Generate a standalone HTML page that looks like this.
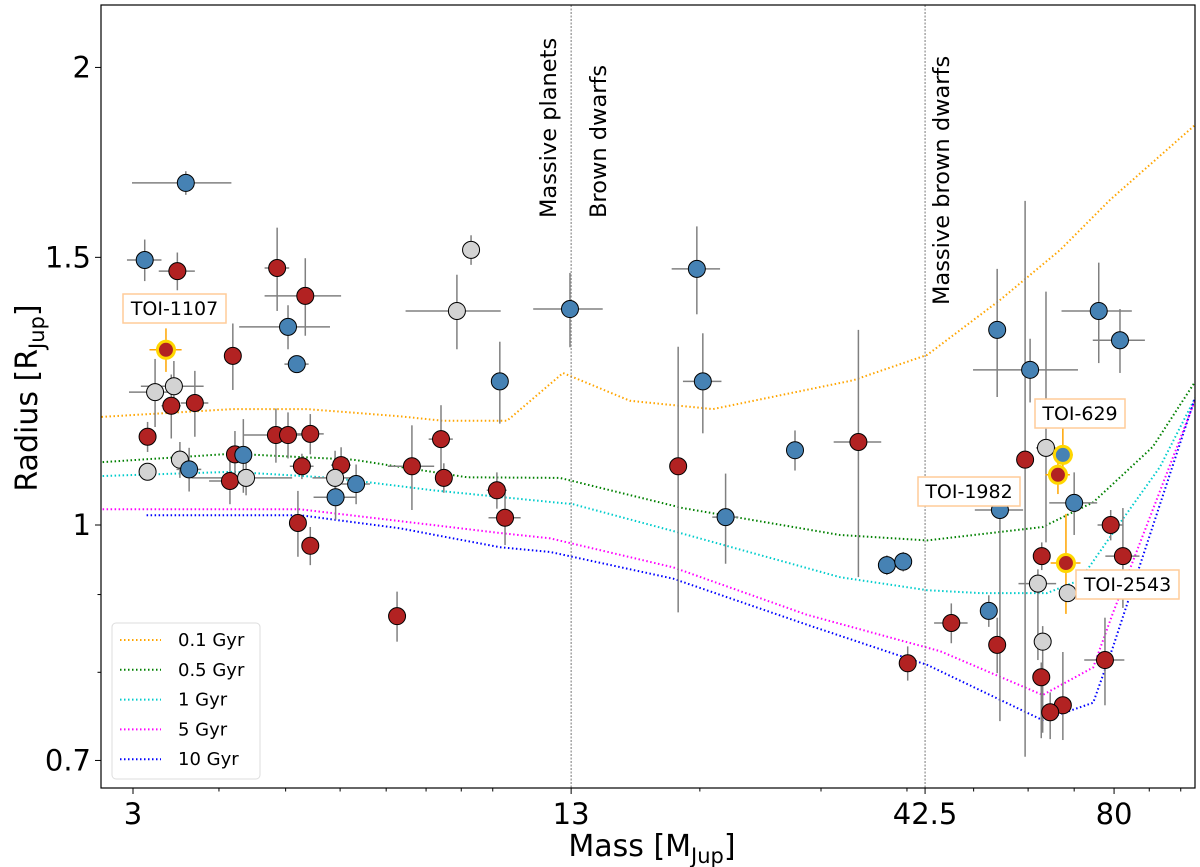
<!DOCTYPE html>
<html><head><meta charset="utf-8">
<style>
html,body{margin:0;padding:0;background:#fff;}
svg{display:block;font-family:"DejaVu Sans","Liberation Sans",sans-serif;}
</style></head>
<body>
<svg id="chart" width="1200" height="867" viewBox="0 0 1200 867" xmlns="http://www.w3.org/2000/svg">
<defs><clipPath id="plotclip"><rect x="101" y="5" width="1094" height="783"/></clipPath></defs>
<rect x="0" y="0" width="1200" height="867" fill="#fff"/>
<g id="iso" clip-path="url(#plotclip)"></g>
<g id="vlines"></g>
<g id="errs" clip-path="url(#plotclip)"></g>
<g id="pts" clip-path="url(#plotclip)"></g>
<g id="axes"></g>
<g id="ann"></g>
<g id="legend"></g>
</svg>
<script>
// ---- data ----
const pointMass = [3.58,3.12,3.48,4.86,5.34,5.04,5.19,4.19,3.35,9.30,8.87,10.24,3.23,3.44,3.41,3.69,3.15,3.51,3.15,3.62,4.22,4.34,4.15,4.38,4.84,5.04,5.43,5.28,6.02,5.90,6.33,5.91,5.21,5.43,7.26,7.63,8.41,8.49,10.14,10.42,12.95,19.8,20.2,18.6,21.8,27.5,34.0,37.4,39.5,40.1,76.0,81.6,54.1,60.4,59.4,63.7,67.4,66.3,70.0,54.6,79.1,82.4,62.8,68.1,62.0,68.5,52.6,46.4,54.1,63.0,77.6,62.7,67.4,64.6];
const pointRadius = [1.679,1.494,1.469,1.476,1.415,1.350,1.276,1.292,1.304,1.517,1.383,1.243,1.223,1.234,1.198,1.203,1.143,1.104,1.084,1.088,1.113,1.112,1.069,1.074,1.146,1.146,1.148,1.093,1.095,1.074,1.064,1.043,1.003,0.969,0.871,1.093,1.139,1.074,1.054,1.011,1.387,1.474,1.243,1.093,1.012,1.120,1.134,0.941,0.946,0.811,1.383,1.323,1.344,1.265,1.104,1.124,1.112,1.079,1.034,1.023,1.000,0.954,0.954,0.944,0.915,0.902,0.878,0.862,0.834,0.838,0.815,0.794,0.761,0.753];
const pointType = ["b","b","r","r","r","b","b","r","hr","g","g","b","g","g","r","r","r","g","g","b","r","b","r","g","r","r","r","r","r","g","b","b","r","r","r","r","r","r","r","r","b","b","b","r","b","b","r","b","b","r","b","b","b","b","r","g","hb","hr","b","b","r","r","r","hr","g","g","b","r","r","g","r","r","r","r"];
const massErr = [0.59,0.18,0.21,0.2,0.68,0.76,0.21,0,0.18,0,1.4,0.27,0.27,0.36,0.11,0.17,0.05,0.09,0.05,0.15,0.07,0.1,0.28,0.73,0.49,0.08,0.25,0.21,0.2,0.43,0.3,0.42,0,0.14,0,0.59,0.34,0.14,0.34,0.56,1.5,1.6,1.3,0,0.95,0.45,2.7,0.37,0.4,0.4,8.9,7.1,0,10.5,0,2.1,2.3,2.7,5.6,4.4,3.4,4.7,0.8,3.4,3.9,0,0.9,2.6,0.6,0.6,5.2,0.6,0.7,0.6];
const radErrHi = [0.03,0.047,0.042,0.093,0.083,0.045,0.015,0.065,0.043,0.034,0.078,0.077,0.063,0.048,0.058,0.06,0.026,0.03,0.01,0.036,0.04,0.062,0.037,0.028,0.047,0.04,0.035,0.021,0.03,0.045,0.032,0.035,0.05,0.028,0.033,0.07,0.06,0.024,0.029,0.041,0.078,0.098,0.094,0.217,0.069,0.034,0.21,0.014,0.014,0.021,0.105,0.064,0.13,0.061,0.53,0.30,0.053,0.031,0.049,0.05,0.023,0.072,0.02,0.073,0.02,0,0.021,0.026,0.035,0.02,0.054,0.018,0.064,0.023];
const radErrLo = [0.03,0.047,0.042,0.093,0.083,0.045,0.015,0.065,0.043,0.034,0.078,0.077,0.063,0.048,0.058,0.06,0.026,0.03,0.01,0.036,0.04,0.062,0.037,0.028,0.047,0.04,0.035,0.021,0.03,0.045,0.032,0.035,0.05,0.028,0.033,0.07,0.06,0.024,0.029,0.041,0.078,0.098,0.094,0.217,0.069,0.034,0.21,0.014,0.014,0.021,0.105,0.064,0.13,0.061,0.40,0.15,0.04,0.031,0.049,0.28,0.023,0.072,0.02,0.07,0.10,0,0.021,0.026,0.035,0.108,0.054,0.07,0.039,0.03];

const iso01M = [2.70,4.19,5.37,7.33,8.47,10.49,12.65,15.83,20.9,33.4,42.8,54.6,66.8,78.9,104.9];
const iso01R = [1.178,1.192,1.192,1.179,1.171,1.171,1.259,1.207,1.192,1.245,1.294,1.406,1.517,1.636,1.833];
const iso05M = [2.71,4.19,6.27,9.18,12.52,18.9,31.97,42.8,63.0,74.6,91.1,104.9];
const iso05R = [1.100,1.114,1.104,1.075,1.074,1.026,0.985,0.977,0.997,1.035,1.126,1.242];
const iso1M = [2.71,4.19,5.86,8.19,13.08,18.28,31.97,42.8,51.1,63.9,71.4,79.7,93.3,104.9];
const iso1R = [1.077,1.084,1.074,1.054,1.032,0.991,0.924,0.906,0.902,0.902,0.920,0.988,1.092,1.212];
const iso5M = [2.71,5.25,7.33,10.24,12.11,18.28,28.6,44.7,63.0,74.6,79.7,104.9];
const iso5R = [1.024,1.024,1.006,0.988,0.980,0.938,0.873,0.826,0.773,0.806,0.875,1.208];
const iso10M = [3.14,5.25,7.33,10.24,12.11,18.28,28.6,42.8,63.0,74.6,79.7,104.9];
const iso10R = [1.015,1.015,0.995,0.967,0.960,0.922,0.860,0.809,0.744,0.764,0.831,1.212];
const isoLabels = ["0.1 Gyr","0.5 Gyr","1 Gyr","5 Gyr","10 Gyr"];

const xTicks = [3,13,42.5,80];
const xTickLabels = ["3","13","42.5","80"];
const xMinor = [4,5,6,7,8,9,10,20,30,40,50,60,70,90,100];
const yTicks = [0.7,1,1.5,2];
const yTickLabels = ["0.7","1","1.5","2"];
const yMinor = [0.8,0.9];
const dividers = [13,42.5];

const annNames = ["TOI-1107","TOI-629","TOI-1982","TOI-2543"];
const annMass = [3.35,67.4,54.6,68.1];
const annRad = [1.304,1.112,1.023,0.944];

// ---- axis functions ----
const X0=101,X1=1195,Y0=5,Y1=788;
function xs(m){return 133+688*(Math.log10(m)-Math.log10(3));}
function ys(r){return 525-1520*Math.log10(r);}
const NS="http://www.w3.org/2000/svg";
function mk(tag,attrs,parent,text){const e=document.createElementNS(NS,tag);for(const k in attrs)e.setAttribute(k,attrs[k]);if(text!==undefined)e.textContent=text;parent.appendChild(e);return e;}

// isochrones
const isoSets=[[iso01M,iso01R,"#ffa500"],[iso05M,iso05R,"#008000"],[iso1M,iso1R,"#00cccc"],[iso5M,iso5R,"#ff00ff"],[iso10M,iso10R,"#0000ff"]];
const isoG=document.getElementById('iso');
isoSets.forEach((s,i)=>{
  const d=s[0].map((m,j)=>(j?'L':'M')+xs(m).toFixed(1)+','+ys(s[1][j]).toFixed(1)).join(' ');
  const p=mk('path',{d:d,fill:'none',stroke:s[2],'stroke-width':2,'stroke-dasharray':'1.5 2.5'},isoG);
  
  
});

// divider lines
const vG=document.getElementById('vlines');
dividers.forEach(m=>{
  const l=mk('line',{x1:xs(m),x2:xs(m),y1:Y0,y2:Y1,stroke:'#777','stroke-width':1,'stroke-dasharray':'2 1.5'},vG);
  
  
});
const divText=[["Massive planets",556,218],["Brown dwarfs",606,218],["Massive brown dwarfs",949,305]];
divText.forEach(t=>{
  const e=mk('text',{x:t[1],y:t[2],'font-size':22.5,transform:'rotate(-90 '+t[1]+' '+t[2]+')',fill:'#000'},vG,t[0]);
  
  
});

// error bars and points
const eG=document.getElementById('errs'),pG=document.getElementById('pts');
const fills={r:'#b22222',b:'#4682b4',g:'#d3d3d3',hr:'#b22222',hb:'#4682b4'};
pointMass.forEach((m,i)=>{
  const t=pointType[i],hl=t[0]==='h';
  const col=hl?'#ffa500':'#808080';
  const cx=xs(m),cy=ys(pointRadius[i]);
  if(massErr[i]>0){
    const l=mk('line',{x1:xs(Math.max(m-massErr[i],0.5)),x2:xs(m+massErr[i]),y1:cy,y2:cy,stroke:col,'stroke-width':1.5},eG);
    
    
  }
  if(radErrHi[i]>0||radErrLo[i]>0){
    const l=mk('line',{x1:cx,x2:cx,y1:ys(pointRadius[i]+radErrHi[i]),y2:ys(Math.max(pointRadius[i]-radErrLo[i],0.3)),stroke:col,'stroke-width':1.5},eG);
    
    
  }
  const c=mk('circle',{cx:cx,cy:cy,r:8.5,fill:fills[t],stroke:hl?'#ffd700':'#000','stroke-width':hl?3:1},pG);
  
  
});

// axes
const aG=document.getElementById('axes');
mk('rect',{x:X0,y:Y0,width:X1-X0,height:Y1-Y0,fill:'none',stroke:'#000','stroke-width':1.2},aG);
xTicks.forEach((v,i)=>{
  mk('line',{x1:xs(v),x2:xs(v),y1:Y1,y2:Y1+6,stroke:'#000'},aG);
  const t=mk('text',{x:xs(v),y:Y1+36,'font-size':29,'text-anchor':'middle'},aG,xTickLabels[i]);
  
  
});
xMinor.forEach(v=>{mk('line',{x1:xs(v),x2:xs(v),y1:Y1,y2:Y1+3.5,stroke:'#000'},aG);});
yTicks.forEach((v,i)=>{
  mk('line',{x1:X0-6,x2:X0,y1:ys(v),y2:ys(v),stroke:'#000'},aG);
  const t=mk('text',{x:X0-10,y:ys(v)+10,'font-size':29,'text-anchor':'end'},aG,yTickLabels[i]);
  
  
});
yMinor.forEach(v=>{mk('line',{x1:X0-3.5,x2:X0,y1:ys(v),y2:ys(v),stroke:'#000'},aG);});
const xt=mk('text',{x:652,y:856,'font-size':30,'text-anchor':'middle'},aG);


xt.innerHTML='Mass [M<tspan font-size="21" dy="7">Jup</tspan><tspan dy="-7">]</tspan>';
const yt=mk('text',{x:0,y:0,'font-size':30,'text-anchor':'middle',transform:'translate(37 398) rotate(-90)'},aG);


yt.innerHTML='Radius [R<tspan font-size="21" dy="7">Jup</tspan><tspan dy="-7">]</tspan>';

// annotations
const anG=document.getElementById('ann');
const annBox=[[123,294,103],[1035,399,90],[918,477,102],[1076,570,103]];
annNames.forEach((n,i)=>{
  const b=annBox[i];
  const r=mk('rect',{x:b[0],y:b[1],width:b[2],height:29,fill:'#fff',stroke:'#ffcc99','stroke-width':1.5},anG);
  
  
  const t=mk('text',{x:b[0]+b[2]/2,y:b[1]+21,'font-size':19,'text-anchor':'middle'},anG,n);
  
  
});

// legend
const lG=document.getElementById('legend');
mk('rect',{x:112,y:623,width:148,height:156,rx:4,fill:'#fff','fill-opacity':0.85,stroke:'#ddd'},lG);
isoSets.forEach((s,i)=>{
  const y=640+i*29.8;
  mk('line',{x1:120,x2:161,y1:y,y2:y,stroke:s[2],'stroke-width':2,'stroke-dasharray':'1.5 2.5'},lG);
  const t=mk('text',{x:178,y:y+6,'font-size':18,'textLength':0},lG,isoLabels[i]);
  t.removeAttribute('textLength');
  
  
});
</script>
</body></html>
